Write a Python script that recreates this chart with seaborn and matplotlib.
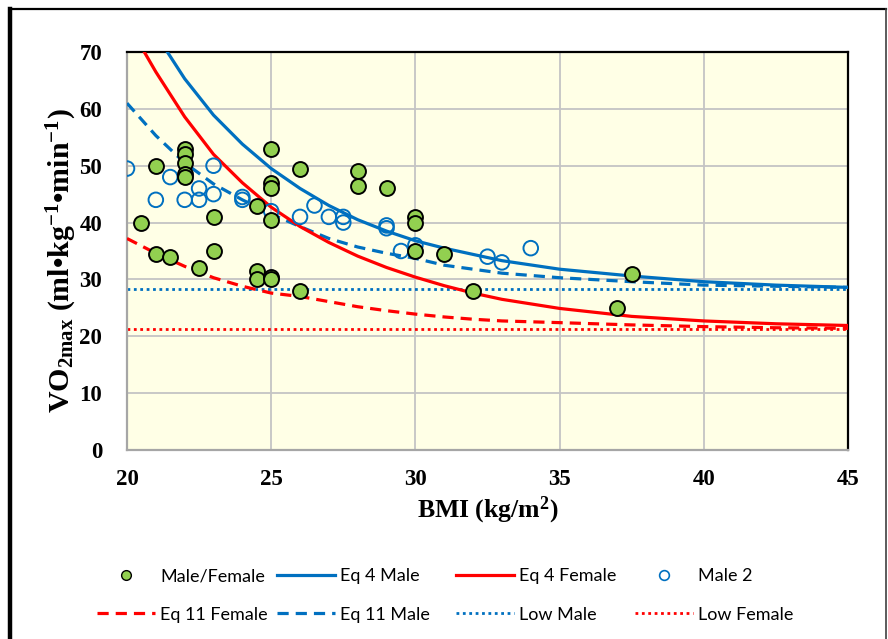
import matplotlib
matplotlib.use("Agg")
import matplotlib.pyplot as plt
import seaborn as sns
from matplotlib.lines import Line2D

# ---- data ----
mf_bmi = [20.5, 21, 21, 21.5, 22, 22, 22, 22, 22, 22.5, 23, 23, 24.5, 24.5, 24.5,
          25, 25, 25, 25, 25, 25, 26, 26, 28, 28, 29, 30, 30, 30, 31, 32, 37, 37.5]
mf_vo2 = [40, 50, 34.5, 34, 53, 52, 50.5, 48.5, 48, 32, 41, 35, 43, 31.5, 30,
          53, 47, 46, 40.5, 30.5, 30, 49.5, 28, 49, 46.5, 46, 41, 40, 35, 34.5, 28, 25, 31]

m2_bmi = [20, 21, 21.5, 22, 22.5, 22.5, 23, 23, 24, 24, 25, 26, 26.5, 27, 27.5, 27.5,
          29, 29, 29.5, 30, 32.5, 33, 34]
m2_vo2 = [49.5, 44, 48, 44, 46, 44, 50, 45, 44.5, 44, 42, 41, 43, 41, 41, 40,
          39.5, 39, 35, 36, 34, 33, 35.5]

eq4m_bmi = [21.4, 22, 23, 24, 25, 26, 27, 28, 29, 30, 31, 32, 33, 35, 37.5, 40, 42.5, 45]
eq4m_vo2 = [70, 65.3, 58.9, 53.8, 49.5, 46.0, 43.0, 40.5, 38.5, 36.8, 35.5, 34.4, 33.3,
            31.8, 30.6, 29.6, 29.0, 28.6]

eq4f_bmi = [20.6, 21, 22, 23, 24, 25, 26, 27, 28, 29, 30, 31, 32, 33, 35, 37.5, 40, 42.5, 45]
eq4f_vo2 = [70, 66.5, 58.6, 52.0, 47.0, 42.7, 39.3, 36.5, 34.1, 32.1, 30.4, 28.9, 27.6,
            26.5, 24.9, 23.5, 22.7, 22.2, 21.9]

eq11m_bmi = [20, 21, 22, 23, 24, 25, 26, 27, 28, 29, 30, 31, 32, 33, 35, 37.5, 40, 42.5, 45]
eq11m_vo2 = [61.0, 55.3, 50.5, 46.8, 44.0, 41.5, 39.3, 37.2, 35.7, 34.6, 33.7, 32.5, 31.8,
             31.1, 30.3, 29.6, 29.0, 28.8, 28.6]

eq11f_bmi = [20, 21, 22, 23, 24, 25, 26, 27, 28, 29, 30, 31, 32, 33, 35, 37.5, 40, 42.5, 45]
eq11f_vo2 = [37.2, 34.6, 32.3, 30.3, 28.8, 27.6, 27.0, 26.1, 25.2, 24.5, 23.9, 23.4, 23.0,
             22.7, 22.4, 22.0, 21.7, 21.5, 21.4]

low_bmi = [20, 45]
low_male = [28.3, 28.3]
low_female = [21.2, 21.2]

BLUE = '#0070C0'
RED = '#FF0000'
GREEN = '#92D050'

plt.rcParams['mathtext.fontset'] = 'custom'
plt.rcParams['mathtext.rm'] = 'Liberation Serif:bold'
plt.rcParams['mathtext.bf'] = 'Liberation Serif:bold'
plt.rcParams['mathtext.it'] = 'Liberation Serif:italic:bold'

fig = plt.figure(figsize=(8.88, 6.39), dpi=100)
ax = fig.add_axes([127 / 888, 1 - 450 / 639, 721 / 888, 398 / 639])
ax.set_facecolor('#FFFFE6')

dash = (0, (3.5, 2.2))
dot = (0, (1, 1.3))

sns.lineplot(x=low_bmi, y=low_male, ax=ax, color=BLUE, lw=2.0, linestyle=dot, zorder=2)
sns.lineplot(x=low_bmi, y=low_female, ax=ax, color=RED, lw=2.0, linestyle=dot, zorder=2)
sns.lineplot(x=eq11f_bmi, y=eq11f_vo2, ax=ax, color=RED, lw=2.3, linestyle=dash, zorder=3)
sns.lineplot(x=eq11m_bmi, y=eq11m_vo2, ax=ax, color=BLUE, lw=2.3, linestyle=dash, zorder=3)
sns.lineplot(x=eq4f_bmi, y=eq4f_vo2, ax=ax, color=RED, lw=2.3, zorder=3)
sns.lineplot(x=eq4m_bmi, y=eq4m_vo2, ax=ax, color=BLUE, lw=2.3, zorder=3)

sns.scatterplot(x=m2_bmi, y=m2_vo2, ax=ax, s=110, facecolors='none', edgecolor=BLUE,
                linewidth=1.4, zorder=4)
sns.scatterplot(x=mf_bmi, y=mf_vo2, ax=ax, s=115, color=GREEN, edgecolor='black',
                linewidth=1.4, zorder=5)

ax.set_xlim(20, 45)
ax.set_ylim(0, 70)
ax.set_xticks(range(20, 46, 5))
ax.set_yticks(range(0, 71, 10))
ax.grid(True, color='#C4C4C4', lw=1.3, zorder=0)
ax.set_axisbelow(True)
ax.tick_params(length=0, labelsize=16.5)
ax.tick_params(axis='y', pad=18)
ax.tick_params(axis='x', pad=14)
for lab in ax.get_xticklabels() + ax.get_yticklabels():
    lab.set_fontfamily('Liberation Serif')
    lab.set_fontweight('bold')
for side in ['top', 'right']:
    ax.spines[side].set_color('black')
    ax.spines[side].set_linewidth(1.6)
for side in ['left', 'bottom']:
    ax.spines[side].set_color('#A6A6A6')
    ax.spines[side].set_linewidth(1.6)

fig.text(62 / 888, 1 - 261 / 639,
         r'VO$_{\mathrm{2max}}$ (ml•kg$^{\mathrm{-1}}$•min$^{\mathrm{-1}}$)',
         rotation=90, ha='center', va='center', fontsize=21.5,
         family='Liberation Serif', weight='bold')
fig.text(488 / 888, 1 - 510 / 639, r'BMI (kg/m$^{\mathrm{2}}$)',
         ha='center', va='center', fontsize=18.5, family='Liberation Serif', weight='bold')

# legend, 4 columns x 2 rows, placed like the Excel one
h = {
    'Male/Female': Line2D([], [], ls='none', marker='o', ms=7, mfc=GREEN, mec='black', mew=1),
    'Eq 4 Male': Line2D([], [], color=BLUE, lw=2.3),
    'Eq 4 Female': Line2D([], [], color=RED, lw=2.3),
    'Male 2': Line2D([], [], ls='none', marker='o', ms=7, mfc='none', mec=BLUE, mew=1.2),
    'Eq 11 Female': Line2D([], [], color=RED, lw=2.3, ls=dash),
    'Eq 11 Male': Line2D([], [], color=BLUE, lw=2.3, ls=dash),
    'Low Male': Line2D([], [], color=BLUE, lw=2.0, ls=dot),
    'Low Female': Line2D([], [], color=RED, lw=2.0, ls=dot),
}
columns = [('Male/Female', 'Eq 11 Female'), ('Eq 4 Male', 'Eq 11 Male'),
           ('Eq 4 Female', 'Low Male'), ('Male 2', 'Low Female')]
col_x = [97, 277, 456, 635]
for names, x0 in zip(columns, col_x):
    fig.legend([h[n] for n in names], list(names), loc='upper left',
               bbox_to_anchor=(x0 / 888, 1 - 568 / 639), frameon=False,
               borderpad=0, borderaxespad=0, handlelength=3.2, handletextpad=0.3,
               labelspacing=1.25, prop={'family': 'Lato', 'size': 13})

# outer chart border
fig.add_artist(Line2D([10 / 888, 10 / 888], [0, 1 - 9 / 639], color='black', lw=3.2,
                      transform=fig.transFigure))
fig.add_artist(Line2D([10 / 888, 886 / 888], [1 - 9 / 639, 1 - 9 / 639], color='black',
                      lw=1.6, transform=fig.transFigure))
fig.add_artist(Line2D([886 / 888, 886 / 888], [0, 1 - 9 / 639], color='#404040', lw=1.2,
                      transform=fig.transFigure))

fig.savefig('out.png', dpi=100)
